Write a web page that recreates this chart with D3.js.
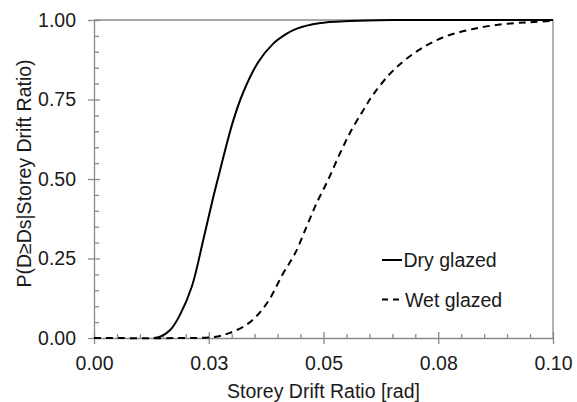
<!DOCTYPE html>
<html>
<head>
<meta charset="utf-8">
<script src="https://cdn.jsdelivr.net/npm/d3@7"></script>
<style>
  body { margin: 0; background: #fff; }
  svg { display: block; font-family: "Liberation Sans", Arial, sans-serif; }
  .tick text { font-size: 19.5px; fill: #1a1a1a; }
  .tick line { stroke: #8a8a8a; stroke-width: 1.3; }
  .domain { stroke: #8a8a8a; stroke-width: 1.3; }
</style>
</head>
<body>
<div id="page"></div>
<script>
// values
const dryDrift = [0.013, 0.0144, 0.0166, 0.0187, 0.0213, 0.0238, 0.026, 0.0282, 0.0303, 0.0325, 0.0358, 0.039, 0.042, 0.0442, 0.049, 0.0558, 0.065, 0.08, 0.1];
const dryProb  = [0, 0.004, 0.025, 0.072, 0.161, 0.308, 0.444, 0.57, 0.682, 0.772, 0.868, 0.925, 0.957, 0.973, 0.99, 0.997, 1, 1, 1];

const wetDrift = [0, 0.02, 0.026, 0.0296, 0.034, 0.0377, 0.0412, 0.0438, 0.0463, 0.0485, 0.051, 0.0536, 0.0561, 0.0587, 0.0608, 0.0651, 0.0704, 0.076, 0.0826, 0.0891, 0.095, 0.1];
const wetProb  = [0, 0, 0.003, 0.016, 0.05, 0.11, 0.203, 0.266, 0.35, 0.424, 0.497, 0.581, 0.654, 0.717, 0.765, 0.84, 0.902, 0.945, 0.972, 0.987, 0.993, 0.997];

const xTicks = [0, 0.025, 0.05, 0.075, 0.1];
const xTickLabels = ['0.00', '0.03', '0.05', '0.08', '0.10'];
const yTicks = [0, 0.25, 0.5, 0.75, 1];
const yTickLabels = ['0.00', '0.25', '0.50', '0.75', '1.00'];
const seriesNames = ['Dry glazed', 'Wet glazed'];

const width = 577;
const height = 402;
const margin = { top: 20, right: 24, bottom: 64, left: 94 };

const x = d3.scaleLinear().domain([0, 0.1]).range([margin.left, width - margin.right]);
const y = d3.scaleLinear().domain([0, 1]).range([height - margin.bottom, margin.top]);

const xMinor = d3.range(0, 0.1001, 0.005).filter(v => Math.abs(v / 0.025 - Math.round(v / 0.025)) > 1e-6);
const yMinor = d3.range(0, 1.001, 0.05).filter(v => Math.abs(v / 0.25 - Math.round(v / 0.25)) > 1e-6);

const svg = d3.select('#page')
              .append('svg')
              .attr('width', width)
              .attr('height', height);

// frame (top and right)
svg.append('path')
   .attr('d', `M${x(0)},${y(1)}H${x(0.1)}V${y(0)}`)
   .attr('fill', 'none')
   .attr('stroke', '#8a8a8a')
   .attr('stroke-width', 1.3);

// x axis
svg.append('g')
   .attr('transform', `translate(0,${y(0)})`)
   .call(d3.axisBottom(x).tickValues(xTicks).tickFormat((d, i) => xTickLabels[i])
           .tickSizeInner(6).tickSizeOuter(0).tickPadding(12));

svg.append('g')
   .attr('transform', `translate(0,${y(0)})`)
   .call(d3.axisTop(x).tickValues(xTicks).tickFormat('').tickSize(6))
   .call(g => g.select('.domain').remove());

svg.append('g')
   .attr('transform', `translate(0,${y(0)})`)
   .call(d3.axisTop(x).tickValues(xMinor).tickFormat('').tickSize(4))
   .call(g => g.select('.domain').remove());

// y axis
svg.append('g')
   .attr('transform', `translate(${x(0)},0)`)
   .call(d3.axisLeft(y).tickValues(yTicks).tickFormat((d, i) => yTickLabels[i])
           .tickSizeInner(6).tickSizeOuter(0).tickPadding(12));

svg.append('g')
   .attr('transform', `translate(${x(0)},0)`)
   .call(d3.axisRight(y).tickValues(yTicks).tickFormat('').tickSize(6))
   .call(g => g.select('.domain').remove());

svg.append('g')
   .attr('transform', `translate(${x(0)},0)`)
   .call(d3.axisRight(y).tickValues(yMinor).tickFormat('').tickSize(5))
   .call(g => g.select('.domain').remove());

// curves
const line = d3.line()
               .x(d => x(d[0]))
               .y(d => y(d[1]))
               .curve(d3.curveCatmullRom.alpha(0.5));

const series = [
    { name: seriesNames[0], pts: d3.zip(dryDrift, dryProb), dash: null },
    { name: seriesNames[1], pts: d3.zip(wetDrift, wetProb), dash: '7,5' }
];

svg.selectAll('.curve')
   .data(series)
   .enter()
   .append('path')
   .attr('class', 'curve')
   .attr('d', d => line(d.pts))
   .attr('fill', 'none')
   .attr('stroke', '#000')
   .attr('stroke-width', 2)
   .attr('stroke-dasharray', d => d.dash);

// legend
const lg = svg.selectAll('.legend')
              .data(series)
              .enter()
              .append('g')
              .attr('class', 'legend')
              .attr('transform', (d, i) => `translate(382,${260 + i * 39.5})`);

lg.append('line')
  .attr('x1', 0)
  .attr('x2', 20)
  .attr('stroke', '#000')
  .attr('stroke-width', 2)
  .attr('stroke-dasharray', d => d.dash ? '6,5' : null);

lg.append('text')
  .attr('x', d => d.dash ? 23 : 21.5)
  .attr('y', 7)
  .style('font-size', '19.5px')
  .attr('fill', '#1a1a1a')
  .text(d => d.name);

// axis titles
svg.append('text')
   .attr('x', (x(0) + x(0.1)) / 2)
   .attr('y', 398)
   .attr('text-anchor', 'middle')
   .style('font-size', '19.5px')
   .attr('fill', '#1a1a1a')
   .text('Storey Drift Ratio [rad]');

svg.append('text')
   .attr('transform', 'translate(31,173.5) rotate(-90)')
   .attr('text-anchor', 'middle')
   .style('font-size', '19.5px')
   .attr('fill', '#1a1a1a')
   .text('P(D≥Ds|Storey Drift Ratio)');
</script>
</body>
</html>
